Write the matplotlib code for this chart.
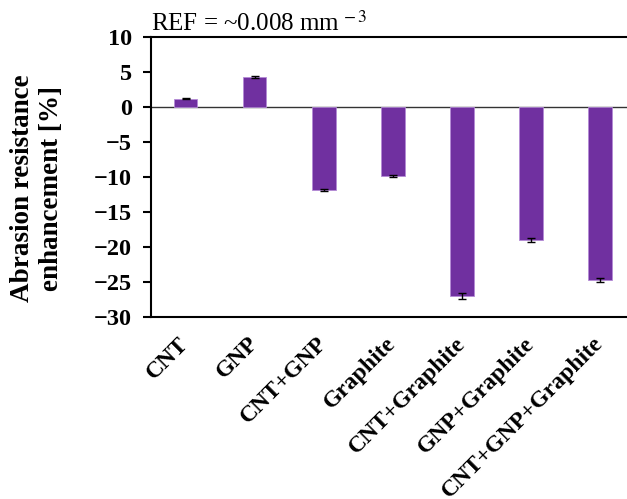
import numpy as np
import matplotlib.pyplot as plt

plt.rcParams['font.family'] = ['Liberation Serif', 'DejaVu Serif']
plt.rcParams['mathtext.fontset'] = 'stix'

# data
categories = ['CNT', 'GNP', 'CNT+GNP', 'Graphite', 'CNT+Graphite',
              'GNP+Graphite', 'CNT+GNP+Graphite']
enhancement = [1.2, 4.3, -11.9, -9.9, -27.0, -19.0, -24.7]
errors = [0.1, 0.1, 0.15, 0.1, 0.4, 0.3, 0.3]
y_ticks = [10, 5, 0, -5, -10, -15, -20, -25, -30]

fig = plt.figure(figsize=(6.27, 4.99), dpi=100)
ax = fig.add_axes([0.241, 0.365, 0.759, 0.561])

x = np.arange(len(categories))
ax.bar(x, enhancement, width=0.34, color='#7030A0', edgecolor='#B48AD6',
       linewidth=0.6, zorder=2)
ax.errorbar(x, enhancement, yerr=errors, fmt='none', ecolor='black',
            elinewidth=1.0, capsize=3, capthick=1.0, zorder=3)
ax.axhline(0, color='#333333', linewidth=1.0, zorder=1)

ax.set_xlim(-0.5, 6.39)
ax.set_ylim(-30, 10)
ax.set_yticks(y_ticks)
ax.set_yticklabels([str(t).replace('-', '\u2212') for t in y_ticks],
                   fontsize=17.5, fontweight='bold')
ax.set_xticks(x)
ax.set_xticklabels(categories, rotation=45, ha='right', va='center',
                   rotation_mode='anchor', fontsize=17, fontweight='bold')
ax.tick_params(axis='x', length=0, pad=17)
ax.tick_params(axis='y', direction='out', length=6, width=1.5, pad=8)

for side in ['left', 'bottom', 'top']:
    ax.spines[side].set_linewidth(1.5)
ax.spines['right'].set_visible(False)

ax.set_ylabel('Abrasion resistance\nenhancement [%]', fontsize=19.5,
              fontweight='bold')
ax.yaxis.set_label_coords(-0.183, 0.46)
ax.text(0.0, 1.005, r'REF = ~0.008 mm$^{\,-3}$', transform=ax.transAxes,
        fontsize=18, ha='left', va='bottom')

fig.savefig('out.png', dpi=100)
